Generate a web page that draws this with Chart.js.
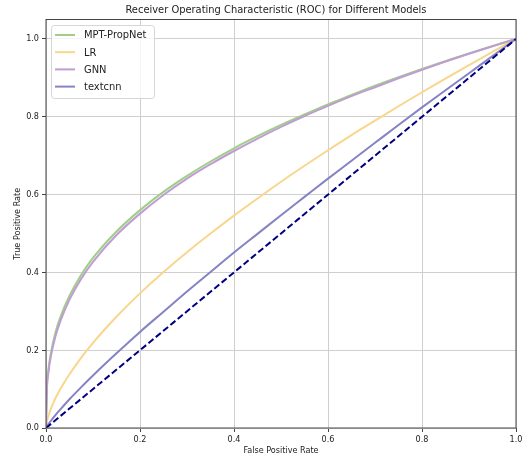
<!DOCTYPE html>
<html>
<head>
<meta charset="utf-8">
<script src="https://cdn.jsdelivr.net/npm/chart.js@4.4.1/dist/chart.umd.min.js"></script>
<style>
  html, body { margin: 0; padding: 0; background: #ffffff; }
  #wrap { width: 531px; height: 459px; }
</style>
</head>
<body>
<div id="wrap"><canvas id="roc" width="531" height="459"></canvas></div>
<script>
// False positive rate grid shared by all ROC curves
const fpr = [0, 0.002, 0.005, 0.01, 0.02, 0.03, 0.05, 0.075, 0.1, 0.15, 0.2, 0.25, 0.3, 0.35, 0.4,
             0.45, 0.5, 0.55, 0.6, 0.65, 0.7, 0.75, 0.8, 0.85, 0.9, 0.95, 1.0];

// True positive rate per model
const tprMptPropNet = [0, 0.107, 0.149, 0.190, 0.245, 0.283, 0.340, 0.394, 0.437, 0.505, 0.560, 0.607, 0.648, 0.685,
                       0.719, 0.750, 0.779, 0.806, 0.832, 0.856, 0.880, 0.902, 0.923, 0.943, 0.963, 0.982, 1.0];
const tprLR = [0, 0.017, 0.030, 0.048, 0.076, 0.099, 0.138, 0.181, 0.219, 0.286, 0.346, 0.401, 0.452, 0.500,
               0.546, 0.590, 0.633, 0.674, 0.714, 0.753, 0.790, 0.827, 0.863, 0.898, 0.933, 0.967, 1.0];
const tprGNN = [0, 0.100, 0.141, 0.182, 0.235, 0.273, 0.330, 0.384, 0.427, 0.496, 0.551, 0.599, 0.641, 0.678,
                0.712, 0.744, 0.774, 0.802, 0.828, 0.853, 0.876, 0.899, 0.921, 0.942, 0.962, 0.981, 1.0];
const tprTextcnn = [0, 0.005, 0.010, 0.018, 0.033, 0.047, 0.074, 0.105, 0.135, 0.192, 0.247, 0.299, 0.351, 0.401,
                    0.451, 0.499, 0.547, 0.594, 0.641, 0.687, 0.733, 0.779, 0.824, 0.868, 0.912, 0.956, 1.0];

// Chance diagonal
const chanceX = [0, 1];
const chanceY = [0, 1];

const modelNames = ['MPT-PropNet', 'LR', 'GNN', 'textcnn'];
const modelTpr = [tprMptPropNet, tprLR, tprGNN, tprTextcnn];
const modelColors = ['#9fcf86', '#f8d68c', '#bf9dd3', '#8583c4'];

const xTicks = [0, 0.2, 0.4, 0.6, 0.8, 1.0];
const yTicks = [0, 0.2, 0.4, 0.6, 0.8, 1.0];

const chartTitle = 'Receiver Operating Characteristic (ROC) for Different Models';

const FONT = "'DejaVu Sans Condensed', 'DejaVu Sans', sans-serif";

function toPoints(xs, ys) {
  return xs.map((x, i) => ({ x: x, y: ys[i] }));
}

const datasets = modelNames.map((name, i) => ({
  label: name,
  data: toPoints(fpr, modelTpr[i]),
  borderColor: modelColors[i],
  backgroundColor: modelColors[i],
  borderWidth: 2,
  pointRadius: 0,
  cubicInterpolationMode: 'monotone',
  fill: false,
  order: 10 - i
}));
datasets.push({
  label: '_chance',
  data: toPoints(chanceX, chanceY),
  borderColor: '#000080',
  borderWidth: 2,
  borderDash: [6.5, 3],
  pointRadius: 0,
  fill: false,
  order: 0
});

// Title above the plot, axes frame over the curves, legend box top-left
const frameAndLegend = {
  id: 'frameAndLegend',
  afterDatasetsDraw(chart) {
    const { ctx, chartArea: a } = chart;
    ctx.save();
    ctx.strokeStyle = '#444444';
    ctx.lineWidth = 1;
    ctx.strokeRect(a.left, a.top, a.right - a.left, a.bottom - a.top);

    ctx.fillStyle = '#222222';
    ctx.font = '11px ' + FONT;
    ctx.textAlign = 'center';
    ctx.textBaseline = 'middle';
    ctx.fillText(chartTitle, (a.left + a.right) / 2 - 5, 10.5);

    const items = chart.data.datasets.filter(d => !d.label.startsWith('_'));
    const bx = a.left + 5, by = a.top + 5.5, bw = 103, bh = 73, r = 3;
    ctx.globalAlpha = 0.8;
    ctx.fillStyle = '#ffffff';
    ctx.beginPath();
    ctx.roundRect(bx, by, bw, bh, r);
    ctx.fill();
    ctx.globalAlpha = 1;
    ctx.strokeStyle = '#d6d6d6';
    ctx.lineWidth = 1;
    ctx.beginPath();
    ctx.roundRect(bx + 0.5, by + 0.5, bw, bh, r);
    ctx.stroke();

    ctx.font = '11px ' + FONT;
    ctx.textBaseline = 'middle';
    ctx.textAlign = 'left';
    items.forEach((d, i) => {
      const y = by + 10 + i * 17.2;
      ctx.strokeStyle = d.borderColor;
      ctx.lineWidth = 2;
      ctx.beginPath();
      ctx.moveTo(bx + 4, y);
      ctx.lineTo(bx + 24, y);
      ctx.stroke();
      ctx.fillStyle = '#222222';
      ctx.fillText(d.label, bx + 33, y + 0.5);
    });
    ctx.restore();
  }
};

new Chart(document.getElementById('roc'), {
  type: 'line',
  data: { datasets: datasets },
  plugins: [frameAndLegend],
  options: {
    responsive: false,
    animation: false,
    events: [],
    layout: { padding: { left: 0, right: 15, top: 19.5, bottom: 0 } },
    plugins: {
      legend: { display: false },
      tooltip: { enabled: false },
      title: { display: false }
    },
    scales: {
      x: {
        type: 'linear',
        min: 0,
        max: 1,
        afterBuildTicks(scale) { scale.ticks = xTicks.map(v => ({ value: v })); },
        afterFit(scale) { scale.height = 31; },
        ticks: {
          color: '#222222',
          font: { family: FONT, size: 9 },
          padding: 2,
          maxRotation: 0,
          callback: v => Number(v).toFixed(1)
        },
        grid: { color: '#cfcfcf', lineWidth: 1, tickLength: 4, tickColor: '#444444' },
        border: { display: false },
        title: {
          display: true,
          text: 'False Positive Rate',
          color: '#222222',
          font: { family: FONT, size: 9 },
          padding: { top: 0, bottom: 3 }
        }
      },
      y: {
        type: 'linear',
        min: 0,
        max: 1.05,
        afterBuildTicks(scale) { scale.ticks = yTicks.map(v => ({ value: v })); },
        afterFit(scale) { scale.width = 46; },
        ticks: {
          color: '#222222',
          font: { family: FONT, size: 9 },
          padding: 3,
          callback: v => Number(v).toFixed(1)
        },
        grid: { color: '#cfcfcf', lineWidth: 1, tickLength: 4, tickColor: '#444444' },
        border: { display: false },
        title: {
          display: true,
          text: 'True Positive Rate',
          color: '#222222',
          font: { family: FONT, size: 9 },
          padding: { top: 12, bottom: 0 }
        }
      }
    }
  }
});
</script>
</body>
</html>
